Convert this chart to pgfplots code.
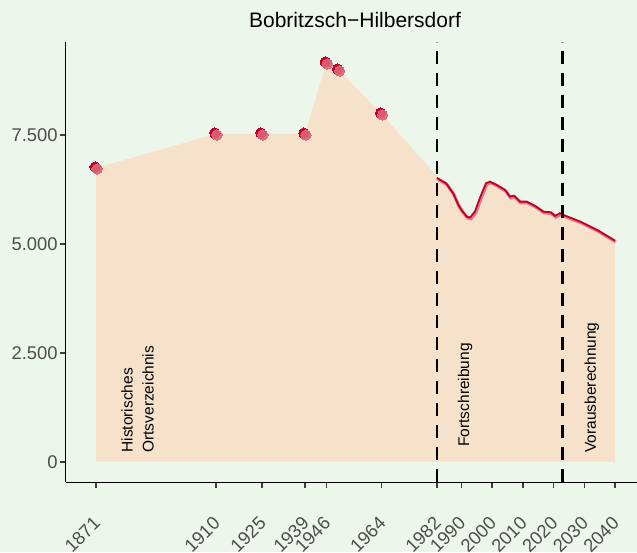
\documentclass[border=0pt]{standalone}
\usepackage{fontspec}
\setmainfont{Liberation Sans}
\usepackage{pgfplots}
\pgfplotsset{compat=1.18}

\definecolor{bgc}{HTML}{EDF6EB}
\definecolor{areac}{HTML}{F6E2CA}
\definecolor{ptdark}{HTML}{C0002A}
\definecolor{ptlight}{HTML}{DC6476}
\definecolor{tickgray}{HTML}{4D4D4D}

\begin{document}
\begin{tikzpicture}
\fill[bgc] (0,0) rectangle (318.5pt,276pt);
\begin{axis}[
  at={(33pt,35pt)}, anchor=south west,
  scale only axis, width=285.5pt, height=220pt,
  xmin=1861.2, xmax=2047.2, ymin=-459, ymax=9633,
  axis x line*=bottom, axis y line*=left,
  axis line style={black, line width=0.5pt, -},
  xtick={1871,1910,1925,1939,1946,1964,1982,1990,2000,2010,2020,2030,2040},
  xticklabels={1871,1910,1925,1939,1946,1964,1982,1990,2000,2010,2020,2030,2040},
  ytick={0,2500,5000,7500},
  yticklabels={0,2.500,5.000,7.500},
  tick align=outside, major tick length=3pt,
  tick style={color=tickgray!80!black, line width=0.7pt},
  tick label style={font=\fontsize{9.2}{11}\selectfont, color=tickgray},
  xticklabel style={rotate=45, anchor=north east, inner sep=0pt, xshift=-10.9pt, yshift=-8.2pt},
  yticklabel style={inner sep=1pt},
  clip=false,
]
% area
\addplot[fill=areac, draw=none] coordinates {
  (1871,0)(1871,6743)(1910,7523)(1925,7523)(1939,7520)(1946,9151)(1950,8991)(1964,7982)
  (1982,6560)(1985,6393)(1987.3,6164)(1989,5896)(1990,5781)(1991.7,5628)(1992.8,5605)
  (1994.4,5742)(1996,6049)(1998,6393)(1999.3,6430)(2001.5,6354)(2004.2,6240)(2005.8,6086)
  (2007.1,6110)(2009.1,5971)(2011.3,5971)(2014,5873)(2016.7,5742)(2019.1,5728)(2020.5,5643)
  (2022.1,5705)(2023.2,5666)(2028.7,5513)(2034.2,5322)(2040,5077)(2040,0)} -- cycle;
% line (halo + line)
\addplot[ptlight, line width=1.6pt, opacity=0.8, xshift=0.4pt, yshift=-0.6pt] coordinates {
  (1982,6515)(1985,6393)(1987.3,6164)(1989,5896)(1990,5781)(1991.7,5628)(1992.8,5605)
  (1994.4,5742)(1996,6049)(1998,6393)(1999.3,6430)(2001.5,6354)(2004.2,6240)(2005.8,6086)
  (2007.1,6110)(2009.1,5971)(2011.3,5971)(2014,5873)(2016.7,5742)(2019.1,5728)(2020.5,5643)
  (2022.1,5705)(2023.2,5666)(2028.7,5513)(2034.2,5322)(2040,5077)};
\addplot[ptdark, line width=0.9pt] coordinates {
  (1982,6515)(1985,6393)(1987.3,6164)(1989,5896)(1990,5781)(1991.7,5628)(1992.8,5605)
  (1994.4,5742)(1996,6049)(1998,6393)(1999.3,6430)(2001.5,6354)(2004.2,6240)(2005.8,6086)
  (2007.1,6110)(2009.1,5971)(2011.3,5971)(2014,5873)(2016.7,5742)(2019.1,5728)(2020.5,5643)
  (2022.1,5705)(2023.2,5666)(2028.7,5513)(2034.2,5322)(2040,5077)};
% points
\addplot[ptdark, only marks, mark=*, mark size=2.6pt, xshift=-0.5pt, yshift=0.5pt, mark options={draw=ptdark, fill=ptdark, line width=0pt}] coordinates {
  (1871,6743)(1910,7523)(1925,7523)(1939,7520)(1946,9151)(1950,8991)(1964,7982)};
\addplot[ptlight, only marks, mark=*, mark size=2.6pt, xshift=0.5pt, yshift=-0.5pt, mark options={draw=ptlight, fill=ptlight, line width=0pt, opacity=0.9}] coordinates {
  (1871,6743)(1910,7523)(1925,7523)(1939,7520)(1946,9151)(1950,8991)(1964,7982)};
% dashed separators
\addplot[black, line width=1.3pt, dash pattern=on 6.5pt off 4.5pt] coordinates {(1982,-459)(1982,9633)};
\addplot[black, line width=1.3pt, dash pattern=on 6.5pt off 4.5pt] coordinates {(2023,-459)(2023,9633)};
% annotations
\node[rotate=90, anchor=west, align=left, inner sep=0pt, font=\fontsize{7.75}{10.5}\selectfont] at (axis cs:1884.5,206) {Historisches\\Ortsverzeichnis};
\node[rotate=90, anchor=west, inner sep=0pt, font=\fontsize{7.75}{10.5}\selectfont] at (axis cs:1991.2,344) {Fortschreibung};
\node[rotate=90, anchor=west, inner sep=0pt, font=\fontsize{7.75}{10.5}\selectfont] at (axis cs:2032.5,206) {Vorausberechnung};
\end{axis}
\node[anchor=base, font=\fontsize{10.5}{12}\selectfont] at (177.5pt,262pt) {Bobritzsch−Hilbersdorf};
\pgfresetboundingbox
\useasboundingbox (0,0) rectangle (318.5pt,276pt);
\end{tikzpicture}
\end{document}
